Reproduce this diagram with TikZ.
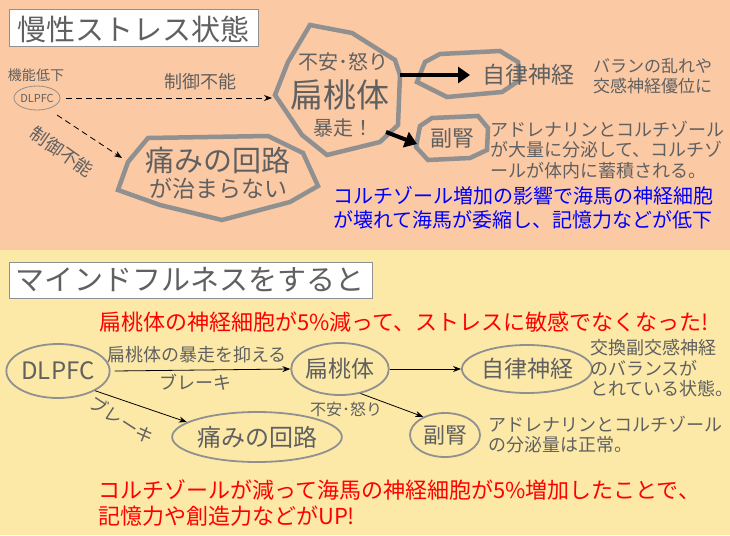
\documentclass[tikz,border=0pt]{standalone}
\usepackage{fontspec}
\setmainfont{Noto Sans CJK JP}
\usetikzlibrary{arrows.meta,shapes.geometric}
\definecolor{topbg}{HTML}{FBC9A4}
\definecolor{botbg}{HTML}{FCE9A8}
\definecolor{tg}{HTML}{606060}
\definecolor{bg}{HTML}{909090}
\newcommand{\fs}[1]{\fontsize{#1}{#1}\selectfont}
\tikzset{
  txt/.style={text=tg, inner sep=0pt},
  ltxt/.style={txt, anchor=west, align=left},
  poly/.style={draw=bg, line width=4.5pt, line join=miter},
  ell/.style={draw=bg, line width=1.8pt, ellipse},
  titlebox/.style={draw=bg, fill=white, line width=1pt},
  thick arr/.style={line width=4pt, -{Triangle[length=12pt,width=16pt]}},
  thin arr/.style={line width=0.8pt, -{Stealth[length=8pt]}},
}
\begin{document}
\begin{tikzpicture}[x=1pt,y=-1pt]
\useasboundingbox (0,0) rectangle (730,535);
\fill[topbg] (0,0) rectangle (730,250);
\fill[botbg] (0,250) rectangle (730,535);
% top title
\draw[titlebox] (9,10) rectangle (258,47);
\node[txt] (t1) at (133,29) {\fs{29}慢性ストレス状態};
% DLPFC small
\node[txt] (kino) at (36,75) {\fs{14}機能低下};
\draw[draw=bg, line width=0.8pt, fill=topbg] (37,98) ellipse (23 and 12);
\node[txt] (dl1) at (37,98) {\fs{11}DLPFC};
\coordinate (dlr) at (66,98);
\coordinate (dlb) at (57,115);
% amygdala polygon
\draw[poly] (310,25) -- (352,33) -- (395,60) -- (400,75) -- (398,125) -- (380,142) -- (327,155) -- (302,135) -- (275,95) -- (288,62) -- cycle;
\node[txt] (am1) at (343,62) {\fs{20}不安･怒り};
\node[txt] (am2) at (340,95) {\fs{33}扁桃体};
\node[txt] (am3) at (343,128) {\fs{20}暴走！};
\coordinate (amL) at (272,98);
\draw[dash pattern=on 6pt off 4pt, line width=0.8pt, -{Stealth[length=8pt]}] (dlr) -- (amL);
\node[txt] (lab1) at (200,82) {\fs{18}制御不能};
% pain polygon
\draw[poly] (148,138) -- (268,136) -- (303,153) -- (318,186) -- (290,202) -- (222,220) -- (160,205) -- (118,190) -- (128,162) -- cycle;
\node[txt] (pa1) at (218,160) {\fs{29}痛みの回路};
\node[txt] (pa2) at (218,189) {\fs{23}が治まらない};
\coordinate (paT) at (122,158);
\draw[dash pattern=on 6pt off 4pt, line width=0.8pt, -{Stealth[length=8pt]}] (dlb) -- (paT);
\node[txt, rotate=-35] (lab2) at (62,152) {\fs{18}制御不能};
% autonomic polygon
\draw[poly] (440,54) -- (500,51) -- (518,62) -- (520,80) -- (502,92) -- (447,97) -- (417,82) -- (425,62) -- cycle;
\node[txt] (au) at (528,75) {\fs{23}自律神経};
\coordinate (amR) at (400,75);
\coordinate (auL) at (470,75);
\draw[thick arr] (amR) -- (auL);
\node[ltxt] (aut) at (593,76) {\fs{17}バランの乱れや\\[3pt]\fs{17}交感神経優位に};
% adrenal polygon
\draw[poly] (432,118) -- (478,116) -- (488,128) -- (487,150) -- (470,158) -- (428,160) -- (416,147) -- (420,126) -- cycle;
\node[txt] (ad) at (452,138) {\fs{22}副腎};
\coordinate (amB) at (386,132);
\coordinate (adL) at (417,144);
\draw[thick arr] (amB) -- (adL);
\node[ltxt] (adt) at (490,150) {\fs{18}アドレナリンとコルチゾール\\[3pt]\fs{18}が大量に分泌して、コルチゾ\\[3pt]\fs{18}ールが体内に蓄積される。};
\node[anchor=west, align=left, text=blue, inner sep=0pt] (blue) at (333,208) {\fs{20}コルチゾール増加の影響で海馬の神経細胞\\[5pt]\fs{20}が壊れて海馬が委縮し、記憶力などが低下};
% bottom
\draw[titlebox] (9,262) rectangle (372,298);
\node[txt] (t2) at (190,280) {\fs{29}マインドフルネスをすると};
\node[anchor=west, text=red, inner sep=0pt] (red1) at (99,322) {\fs{22}扁桃体の神経細胞が5\%減って、ストレスに敏感でなくなった!};
\node[ell, txt, draw=bg, minimum width=96pt, minimum height=54pt] (dl2) at (58,371) {\fs{24}DLPFC};
\node[ell, txt, draw=bg, minimum width=86pt, minimum height=52pt] (am) at (340,369) {\fs{23}扁桃体};
\node[ell, txt, draw=bg, minimum width=155pt, minimum height=50pt] (pa) at (257,437) {\fs{24}痛みの回路};
\node[ell, txt, draw=bg, minimum width=106pt, minimum height=48pt] (au2) at (527,369) {\fs{23}自律神経};
\node[ell, txt, draw=bg, minimum width=70pt, minimum height=44pt] (ad2) at (445,435) {\fs{22}副腎};
\draw[thin arr] (dl2.east) ++(4,0) -- (am.west);
\node[txt] (b1) at (197,355) {\fs{18}扁桃体の暴走を抑える};
\node[txt] (b2) at (195,382) {\fs{18}ブレーキ};
\draw[thin arr] (dl2.-28) -- (pa.168);
\node[txt, rotate=-33] (b3) at (122,420) {\fs{18}ブレーキ};
\draw[thin arr] (am.east) -- (au2.west);
\draw[thin arr] (am.-50) -- (ad2.140);
\node[txt] (b4) at (346,409) {\fs{16}不安･怒り};
\node[ltxt] (aut2) at (590,368) {\fs{18}交換副交感神経\\[3pt]\fs{18}のバランスが\\[3pt]\fs{18}とれている状態。};
\node[ltxt] (adt2) at (488,435) {\fs{18}アドレナリンとコルチゾール\\[3pt]\fs{18}の分泌量は正常。};
\node[anchor=west, align=left, text=red, inner sep=0pt] (red2) at (98,503) {\fs{22}コルチゾールが減って海馬の神経細胞が5\%増加したことで、\\[5pt]\fs{22}記憶力や創造力などがUP!};
\end{tikzpicture}
\end{document}
